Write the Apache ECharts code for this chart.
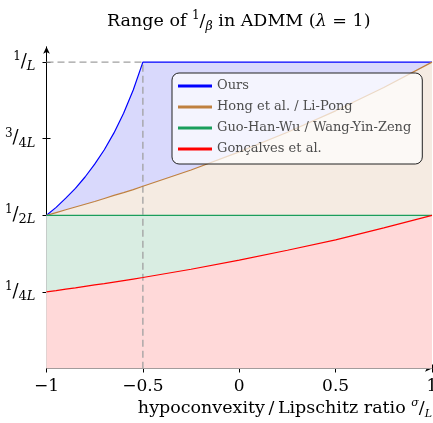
<!DOCTYPE html>
<html>
<head>
<meta charset="utf-8">
<script src="https://cdn.jsdelivr.net/npm/echarts@6/dist/echarts.min.js"></script>
<style>html,body{margin:0;padding:0;background:#fff}#c{width:433px;height:423px}</style>
</head>
<body>
<div id="c"></div>
<script>
// ---- data ----
const xs        = [-1, -0.95, -0.9, -0.85, -0.8, -0.75, -0.7, -0.65, -0.6, -0.55, -0.5, -0.25, 0, 0.25, 0.5, 0.75, 1];
const oursVals  = [0.5, 0.526, 0.556, 0.588, 0.625, 0.667, 0.714, 0.769, 0.833, 0.909, 1, 1, 1, 1, 1, 1, 1];
const hongVals  = [0.5, 0.509, 0.518, 0.527, 0.536, 0.545, 0.555, 0.565, 0.574, 0.584, 0.595, 0.648, 0.707, 0.771, 0.841, 0.917, 1];
const guoVals   = [0.5, 0.5, 0.5, 0.5, 0.5, 0.5, 0.5, 0.5, 0.5, 0.5, 0.5, 0.5, 0.5, 0.5, 0.5, 0.5, 0.5];
const goncVals  = [0.25, 0.254, 0.259, 0.263, 0.268, 0.273, 0.277, 0.282, 0.287, 0.292, 0.297, 0.324, 0.354, 0.386, 0.420, 0.459, 0.5];
const seriesNames = ['Ours', 'Hong et al. / Li-Pong', 'Guo-Han-Wu / Wang-Yin-Zeng', 'Gonçalves et al.'];
const guideX = [-1, -0.5, -0.5];
const guideY = [1, 1, 0];
const xTickValues = [-1, -0.5, 0, 0.5, 1];
const xTickLabels = ['\u22121', '\u22120.5', '0', '0.5', '1'];
const yTickValues = [0.25, 0.5, 0.75, 1];
const yTickLabels = ['1/4L', '1/2L', '3/4L', '1/L'];

const lineColors = ['#0000ff', '#bf8040', '#1a9e5c', '#ff0000'];
const fillColors = ['#d9d9fc', '#f5ebe2', '#d9ede2', '#ffd9d9'];
const FONT = 'DejaVu Serif';

const pairs = (a, b) => a.map((v, i) => [v, b[i]]);
const allVals = [oursVals, hongVals, guoVals, goncVals];

function yLabel(v) {
  const i = yTickValues.indexOf(v);
  if (i < 0) return '';
  const [num, den] = yTickLabels[i].split('/');
  const d = den.replace('L', '');
  return '{n|' + num + '}{s|/}' + (d ? '{d|' + d + '}' : '') + '{l|L}';
}

const areaSeries = allVals.map((vals, k) => ({
  type: 'line', data: pairs(xs, vals), symbol: 'none', silent: true,
  lineStyle: { width: 0 }, areaStyle: { color: fillColors[k], opacity: 1 }, z: 1
}));
const lineSeries = allVals.map((vals, k) => ({
  name: seriesNames[k], type: 'line', data: pairs(xs, vals), symbol: 'none',
  color: lineColors[k], lineStyle: { width: 1.2, color: lineColors[k] }, z: 3
}));
const guideSeries = {
  type: 'line', data: pairs(guideX, guideY), symbol: 'none', silent: true,
  lineStyle: { width: 1.3, color: '#a0a0a0', type: [7, 4] }, z: 2
};

const axisTickCommon = { show: true, length: 4, lineStyle: { color: '#000', width: 1 } };
const base = { fontFamily: FONT, color: '#000', fontWeight: 'normal' };

const option = {
  animation: false,
  textStyle: { fontFamily: FONT },
  title: {
    text: '{t|Range of }{n|1}{s|/}{d|\u03b2}{t| in ADMM (}{i|\u03bb}{t| = 1)}',
    left: 102, top: 5,
    textStyle: {
      fontWeight: 'normal',
      rich: {
        t: Object.assign({}, base, { fontSize: 17.5, lineHeight: 23 }),
        n: Object.assign({}, base, { fontSize: 12, verticalAlign: 'top', lineHeight: 15 }),
        s: Object.assign({}, base, { fontSize: 17.5, lineHeight: 23 }),
        d: Object.assign({}, base, { fontSize: 12.5, fontStyle: 'italic', verticalAlign: 'bottom', lineHeight: 15 }),
        i: Object.assign({}, base, { fontSize: 17.5, fontStyle: 'italic', lineHeight: 23 })
      }
    }
  },
  legend: {
    data: seriesNames, orient: 'vertical', left: 172, top: 73,
    icon: 'rect', itemWidth: 34, itemHeight: 3, itemGap: 7,
    padding: [6, 11, 8, 6],
    backgroundColor: 'rgba(255,255,255,0.7)', borderColor: '#222', borderWidth: 1, borderRadius: 7,
    textStyle: { fontFamily: FONT, fontSize: 13, color: '#4d4d4d', lineHeight: 14 }
  },
  grid: { left: 46.5, right: 1, top: 46.8, bottom: 54.5, containLabel: false, outerBoundsMode: 'none' },
  xAxis: [{
    type: 'value', min: -1, max: 1, interval: 0.5,
    axisLine: { show: true, onZero: false, symbol: ['none', 'arrow'], symbolSize: [5, 7], lineStyle: { color: '#000', width: 1 } },
    axisTick: Object.assign({}, axisTickCommon, { inside: false }),
    splitLine: { show: false },
    axisLabel: {
      margin: 10, fontFamily: FONT, fontSize: 17, color: '#000',
      formatter: v => { const i = xTickValues.indexOf(v); return i < 0 ? '' : xTickLabels[i]; }
    },
    name: '{t|hypoconvexity\u2009/\u2009Lipschitz ratio }{n|\u03c3}{s|/}{d|L}',
    nameLocation: 'end', nameGap: 0,
    nameTextStyle: {
      align: 'right', verticalAlign: 'top', padding: [29, 0, 0, 0],
      rich: {
        t: Object.assign({}, base, { fontSize: 17.5, lineHeight: 22 }),
        n: Object.assign({}, base, { fontSize: 11, fontStyle: 'italic', verticalAlign: 'top', lineHeight: 15 }),
        s: Object.assign({}, base, { fontSize: 17.5, lineHeight: 22 }),
        d: Object.assign({}, base, { fontSize: 11, fontStyle: 'italic', verticalAlign: 'bottom', lineHeight: 15 })
      }
    }
  }, {
    type: 'value', min: -1, max: 1, interval: 0.5, position: 'bottom',
    axisLine: { show: false, onZero: false },
    axisTick: Object.assign({}, axisTickCommon, { inside: true }),
    axisLabel: { show: false }, splitLine: { show: false }
  }],
  yAxis: [{
    type: 'value', min: 0, max: 1.05, position: 'left',
    axisLine: { show: true, onZero: false, symbol: ['none', 'arrow'], symbolSize: [5, 7], lineStyle: { color: '#000', width: 1 } },
    axisTick: Object.assign({}, axisTickCommon, { inside: false, customValues: yTickValues }),
    splitLine: { show: false },
    axisLabel: {
      customValues: yTickValues, margin: 11, formatter: yLabel,
      rich: {
        n: Object.assign({}, base, { fontSize: 12, verticalAlign: 'top', lineHeight: 13 }),
        s: Object.assign({}, base, { fontSize: 18, lineHeight: 22 }),
        d: Object.assign({}, base, { fontSize: 13, verticalAlign: 'bottom', lineHeight: 15 }),
        l: Object.assign({}, base, { fontSize: 13, fontStyle: 'italic', verticalAlign: 'bottom', lineHeight: 15 })
      }
    }
  }, {
    type: 'value', min: 0, max: 1.05, position: 'left',
    axisLine: { show: false, onZero: false },
    axisTick: Object.assign({}, axisTickCommon, { inside: true, customValues: yTickValues }),
    axisLabel: { show: false }, splitLine: { show: false }
  }],
  series: [...areaSeries, guideSeries, ...lineSeries]
};

const chart = echarts.init(document.getElementById('c'), null, { renderer: 'canvas' });
chart.setOption(option);
</script>
</body>
</html>
